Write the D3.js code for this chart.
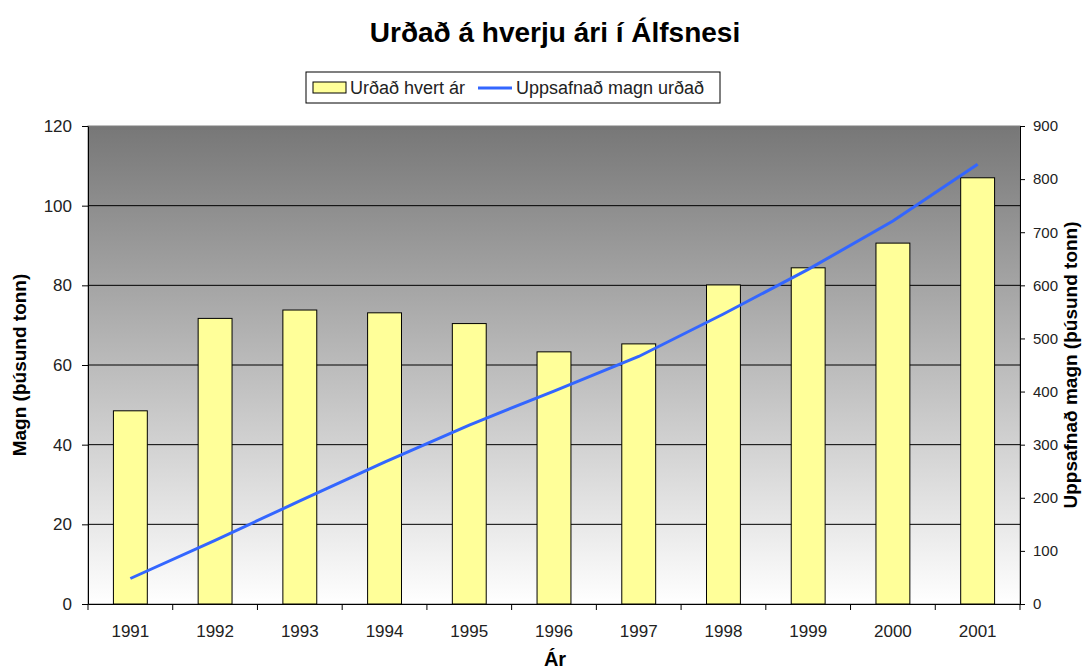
<!DOCTYPE html>
<html>
<head>
<meta charset="utf-8">
<script src="https://cdn.jsdelivr.net/npm/d3@7"></script>
<style>
  body { margin: 0; background: #fff; }
  svg text { font-family: "Liberation Sans", Arial, sans-serif; }
</style>
</head>
<body>
<div id="chart"></div>
<script>
// data (thousand tonnes)
const years = ['1991','1992','1993','1994','1995','1996','1997','1998','1999','2000','2001'];
const yearly = [48.5, 71.7, 73.8, 73.1, 70.4, 63.3, 65.3, 80.1, 84.4, 90.6, 107];
const cumulative = [48, 120, 194, 267, 337, 401, 466, 546, 630, 721, 828];
const leftTicks = [0, 20, 40, 60, 80, 100, 120];
const rightTicks = [0, 100, 200, 300, 400, 500, 600, 700, 800, 900];

const width = 1083, height = 669;
const margin = { top: 126, right: 63, bottom: 65, left: 88 };

const svg = d3.select('#chart').append('svg')
    .attr('width', width)
    .attr('height', height);

const x = d3.scaleBand()
    .domain(years)
    .range([margin.left, width - margin.right])
    .paddingInner(0.6)
    .paddingOuter(0.3);

const xTick = d3.scaleBand()
    .domain(years)
    .range([margin.left, width - margin.right]);

const y = d3.scaleLinear()
    .domain([0, 120])
    .range([height - margin.bottom, margin.top]);

const y2 = d3.scaleLinear()
    .domain([0, 900])
    .range([height - margin.bottom, margin.top]);

// plot background gradient
const grad = svg.append('defs').append('linearGradient')
    .attr('id', 'bg').attr('x1', 0).attr('y1', 0).attr('x2', 0).attr('y2', 1);
grad.append('stop').attr('offset', '0%').attr('stop-color', '#777777');
grad.append('stop').attr('offset', '100%').attr('stop-color', '#ffffff');

svg.append('rect')
    .attr('x', margin.left)
    .attr('y', margin.top)
    .attr('width', width - margin.right - margin.left)
    .attr('height', height - margin.bottom - margin.top)
    .attr('fill', 'url(#bg)')
    .attr('stroke', '#808080');

// gridlines
svg.append('g')
    .selectAll('line')
    .data(leftTicks.slice(1, -1))
    .enter().append('line')
    .attr('x1', margin.left)
    .attr('x2', width - margin.right)
    .attr('y1', d => y(d))
    .attr('y2', d => y(d))
    .attr('stroke', '#000')
    .attr('stroke-width', 1);

// bars
svg.selectAll('.bar')
    .data(years)
    .enter().append('rect')
    .attr('class', 'bar')
    .attr('x', d => x(d))
    .attr('y', (d, i) => y(yearly[i]))
    .attr('width', x.bandwidth())
    .attr('height', (d, i) => y(0) - y(yearly[i]))
    .attr('fill', '#ffff99')
    .attr('stroke', '#000')
    .attr('stroke-width', 1);

// cumulative line
const line = d3.line()
    .x((d, i) => xTick(years[i]) + xTick.bandwidth() / 2)
    .y(d => y2(d));

svg.append('path')
    .datum(cumulative)
    .attr('d', line)
    .attr('fill', 'none')
    .attr('stroke', '#3366ff')
    .attr('stroke-width', 3);

// axes
const styleAxis = (g, size) => {
    g.selectAll('path, line').attr('stroke', '#000');
    g.selectAll('text').attr('font-size', size || 17).attr('fill', '#222')
        .style('font-family', '"Liberation Sans", Arial, sans-serif');
};

svg.append('g')
    .attr('transform', `translate(${margin.left},0)`)
    .call(d3.axisLeft(y).tickValues(leftTicks).tickSize(6).tickSizeOuter(0).tickPadding(10))
    .call(styleAxis);

svg.append('g')
    .attr('transform', `translate(${width - margin.right},0)`)
    .call(d3.axisRight(y2).tickValues(rightTicks).tickSize(5).tickSizeOuter(0).tickPadding(8))
    .call(styleAxis, 15);

svg.append('g')
    .attr('transform', `translate(0,${height - margin.bottom})`)
    .call(d3.axisBottom(xTick).tickSize(0).tickSizeOuter(0).tickPadding(21))
    .call(styleAxis);

// bottom ticks between categories
svg.append('g')
    .selectAll('line')
    .data(years.concat(['end']))
    .enter().append('line')
    .attr('x1', (d, i) => i < years.length ? xTick(d) : width - margin.right)
    .attr('x2', (d, i) => i < years.length ? xTick(d) : width - margin.right)
    .attr('y1', height - margin.bottom)
    .attr('y2', height - margin.bottom + 6)
    .attr('stroke', '#000');

// titles
svg.append('text')
    .attr('x', 555).attr('y', 42)
    .attr('text-anchor', 'middle')
    .attr('font-size', 28).attr('font-weight', 'bold')
    .text('Urðað á hverju ári í Álfsnesi');

svg.append('text')
    .attr('x', 555).attr('y', 666)
    .attr('text-anchor', 'middle')
    .attr('font-size', 20).attr('font-weight', 'bold')
    .text('Ár');

svg.append('text')
    .attr('transform', `translate(26,${(margin.top + height - margin.bottom) / 2}) rotate(-90)`)
    .attr('text-anchor', 'middle')
    .attr('font-size', 19).attr('font-weight', 'bold')
    .text('Magn (þúsund tonn)');

svg.append('text')
    .attr('transform', `translate(1077,${(margin.top + height - margin.bottom) / 2}) rotate(-90)`)
    .attr('text-anchor', 'middle')
    .attr('font-size', 19).attr('font-weight', 'bold')
    .text('Uppsafnað magn (þúsund tonn)');

// legend
const legend = svg.append('g');
legend.append('rect')
    .attr('x', 306).attr('y', 72).attr('width', 414).attr('height', 31)
    .attr('fill', '#fff').attr('stroke', '#000');
legend.append('rect')
    .attr('x', 313).attr('y', 82).attr('width', 33).attr('height', 11)
    .attr('fill', '#ffff99').attr('stroke', '#000');
legend.append('text')
    .attr('x', 350).attr('y', 94)
    .attr('font-size', 18).attr('fill', '#222')
    .text('Urðað hvert ár');
legend.append('line')
    .attr('x1', 478).attr('x2', 512).attr('y1', 88).attr('y2', 88)
    .attr('stroke', '#3366ff').attr('stroke-width', 3);
legend.append('text')
    .attr('x', 516).attr('y', 94)
    .attr('font-size', 18).attr('fill', '#222')
    .text('Uppsafnað magn urðað');
</script>
</body>
</html>
